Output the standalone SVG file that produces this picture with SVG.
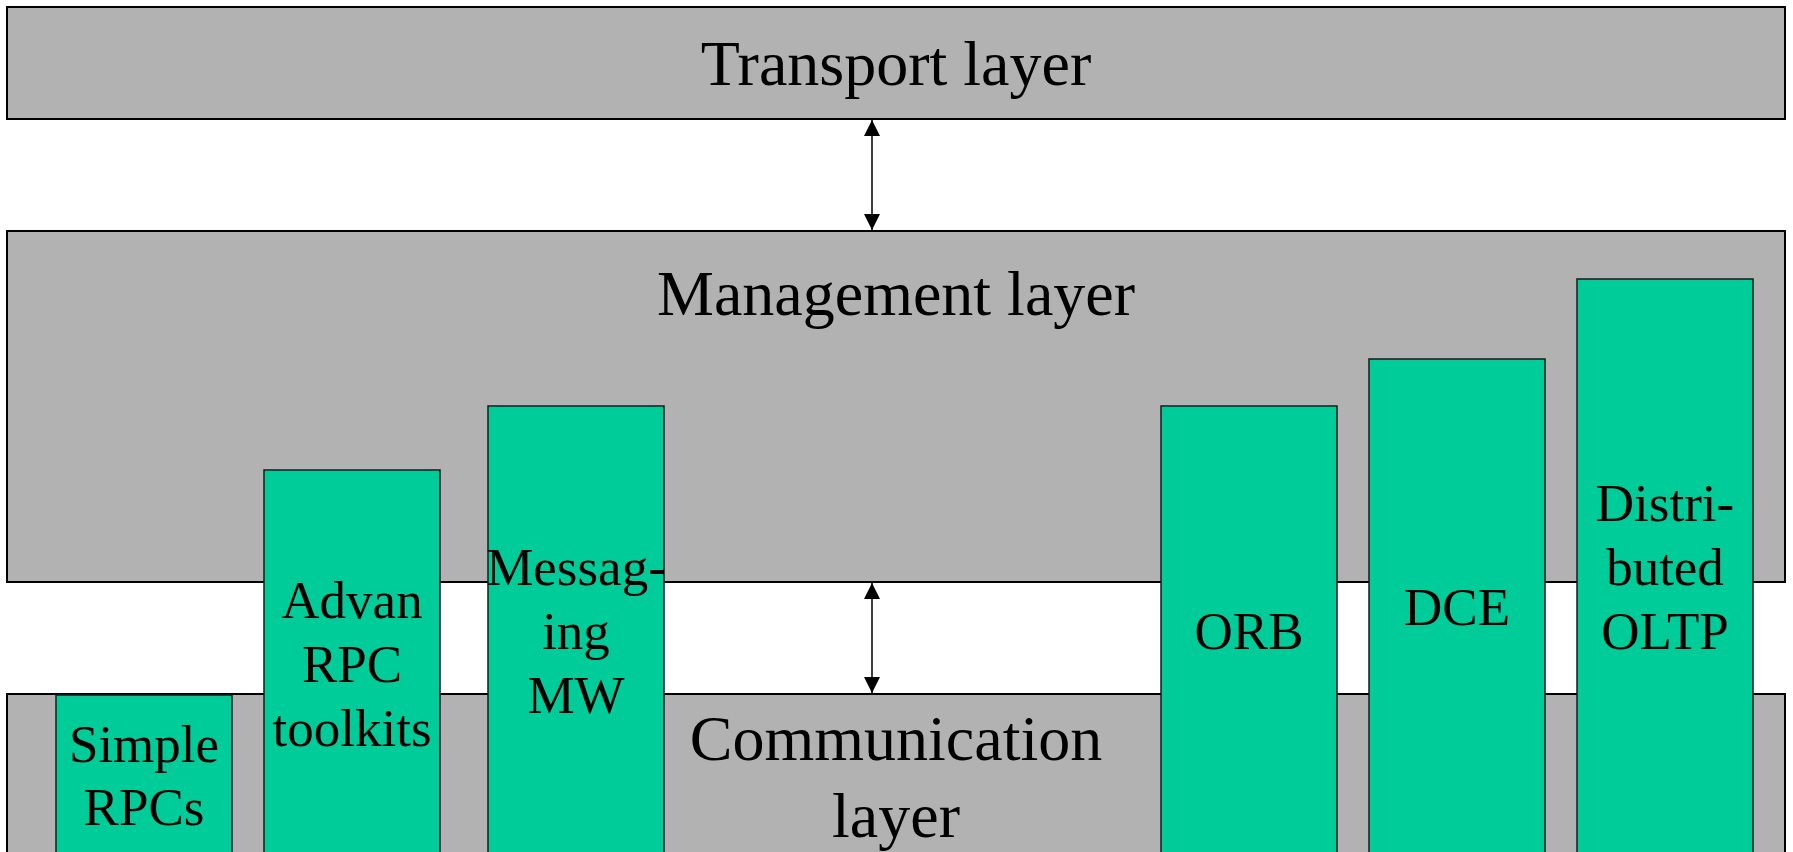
<svg xmlns="http://www.w3.org/2000/svg" width="1793" height="852" viewBox="0 0 1793 852">
  <style>
    .layer { fill: #B2B2B2; stroke: #000; stroke-width: 2; }
    .mw { fill: #00CC99; stroke: #1a1a1a; stroke-width: 1.5; }
    .big { font-family: "Liberation Serif", "Times New Roman", serif; font-size: 64px; fill: #000; text-anchor: middle; }
    .small { font-family: "Liberation Serif", "Times New Roman", serif; font-size: 53px; fill: #000; text-anchor: middle; }
    .link { stroke: #000; stroke-width: 1.5; fill: none; }
  </style>
  <defs>
    <marker id="arrowEnd" markerUnits="userSpaceOnUse" markerWidth="16" markerHeight="16" viewBox="0 0 16 16" refX="16" refY="8" orient="auto">
      <path d="M0,0 L16,8 L0,16 Z" fill="#000"/>
    </marker>
    <marker id="arrowStart" markerUnits="userSpaceOnUse" markerWidth="16" markerHeight="16" viewBox="0 0 16 16" refX="0" refY="8" orient="auto">
      <path d="M16,0 L0,8 L16,16 Z" fill="#000"/>
    </marker>
  </defs>

  <rect width="1793" height="852" fill="#fff"/>

  <!-- layers -->
  <g id="transport-layer">
    <rect class="layer" x="7" y="7" width="1778" height="112"/>
    <text class="big" x="896" y="85">Transport layer</text>
  </g>
  <g id="management-layer">
    <rect class="layer" x="7" y="231" width="1778" height="351"/>
    <text class="big" x="896" y="315">Management layer</text>
  </g>
  <g id="communication-layer">
    <rect class="layer" x="7" y="694" width="1778" height="200"/>
    <text class="big" x="896" y="760">Communication</text>
    <text class="big" x="896" y="837">layer</text>
  </g>

  <!-- middleware columns -->
  <g id="simple-rpcs">
    <rect class="mw" x="56" y="695" width="176" height="200"/>
    <text class="small" x="144" y="762">Simple</text>
    <text class="small" x="144" y="825">RPCs</text>
  </g>
  <g id="advanced-rpc-toolkits">
    <rect class="mw" x="264" y="470" width="176" height="420"/>
    <text class="small" x="352" y="618">Advan</text>
    <text class="small" x="352" y="682">RPC</text>
    <text class="small" x="352" y="746">toolkits</text>
  </g>
  <g id="messaging-mw">
    <rect class="mw" x="488" y="406" width="176" height="480"/>
    <text class="small" x="576" y="585">Messag-</text>
    <text class="small" x="576" y="649">ing</text>
    <text class="small" x="576" y="713">MW</text>
  </g>
  <g id="orb">
    <rect class="mw" x="1161" y="406" width="176" height="480"/>
    <text class="small" x="1249" y="649">ORB</text>
  </g>
  <g id="dce">
    <rect class="mw" x="1369" y="359" width="176" height="520"/>
    <text class="small" x="1457" y="625">DCE</text>
  </g>
  <g id="distributed-oltp">
    <rect class="mw" x="1577" y="279" width="176" height="600"/>
    <text class="small" x="1665" y="521">Distri-</text>
    <text class="small" x="1665" y="585">buted</text>
    <text class="small" x="1665" y="649">OLTP</text>
  </g>

  <!-- connectors between layers -->
  <g id="connectors">
    <line class="link" x1="872" y1="120" x2="872" y2="230" marker-start="url(#arrowStart)" marker-end="url(#arrowEnd)"/>
    <line class="link" x1="872" y1="583" x2="872" y2="693" marker-start="url(#arrowStart)" marker-end="url(#arrowEnd)"/>
  </g>
</svg>
